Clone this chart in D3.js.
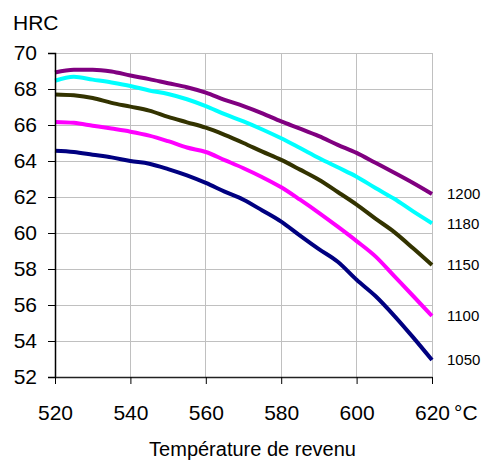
<!DOCTYPE html>
<html><head><meta charset="utf-8">
<script src="https://cdn.jsdelivr.net/npm/d3@7"></script>
<style>
html,body{margin:0;padding:0;background:#fff;}
svg{display:block;font-family:Arial,"Liberation Sans",Helvetica,sans-serif;}
</style></head>
<body>
<svg id="chart" width="485" height="461"></svg>
<script>
const temperatures = [520,525,530,535,540,545,550,555,560,565,570,575,580,585,590,595,600,605,610,615,620];
const hrc1200 = [68.92,69.07,69.07,68.97,68.75,68.55,68.32,68.10,67.80,67.40,67.05,66.65,66.20,65.80,65.38,64.90,64.45,63.90,63.35,62.78,62.17];
const hrc1180 = [68.46,68.68,68.52,68.36,68.17,67.92,67.72,67.43,67.05,66.60,66.20,65.75,65.26,64.72,64.17,63.65,63.13,62.50,61.90,61.20,60.54];
const hrc1150 = [67.70,67.65,67.50,67.23,67.02,66.80,66.45,66.15,65.85,65.45,65.00,64.52,64.06,63.52,62.96,62.28,61.58,60.80,60.05,59.15,58.22];
const hrc1100 = [66.17,66.12,65.96,65.80,65.63,65.41,65.10,64.75,64.50,64.05,63.60,63.10,62.54,61.85,61.12,60.35,59.55,58.70,57.60,56.50,55.39];
const hrc1050 = [64.57,64.50,64.35,64.20,64.00,63.85,63.55,63.20,62.78,62.30,61.85,61.25,60.63,59.85,59.10,58.40,57.40,56.50,55.40,54.20,52.94];
const seriesNames = ["1200","1180","1150","1100","1050"];
const seriesColors = ["#800080","#00ffff","#333300","#ff00ff","#000080"];
const seriesValues = [hrc1200,hrc1180,hrc1150,hrc1100,hrc1050];
const xTicks = [520,540,560,580,600,620];
const yTicks = [52,54,56,58,60,62,64,66,68,70];
const yTitle = "HRC";
const xTitle = "Température de revenu";
const xUnit = "°C";

(function(){
const svg = d3.select("#chart");
const mL = 55, mR = 432, mT = 53, mB = 377;
const x = d3.scaleLinear().domain([520,620]).range([mL,mR]);
const y = d3.scaleLinear().domain([52,70]).range([mB,mT]);

// gridlines
const grid = svg.append("g");
grid.selectAll("line.h").data(yTicks.filter(d=>d>52)).join("line")
  .attr("x1",mL).attr("x2",mR).attr("y1",d=>y(d)).attr("y2",d=>y(d))
  .attr("stroke","#c0c0c0").attr("stroke-width",1).attr("shape-rendering","crispEdges");
grid.selectAll("line.v").data(xTicks.filter(d=>d>520)).join("line")
  .attr("x1",d=>x(d)).attr("x2",d=>x(d)).attr("y1",mT).attr("y2",mB)
  .attr("stroke","#c0c0c0").attr("stroke-width",1).attr("shape-rendering","crispEdges");

// series
const line = d3.line().x((d,i)=>x(temperatures[i])).y(d=>y(d)).curve(d3.curveMonotoneX);
seriesValues.forEach((vals,k)=>{
  svg.append("path").datum(vals).attr("d",line)
    .attr("fill","none").attr("stroke",seriesColors[k]).attr("stroke-width",4)
    .attr("stroke-linejoin","round");
  svg.append("text").attr("x",mR+15).attr("y",y(vals[vals.length-1]))
    .attr("dy","0.35em").attr("font-size",15).attr("fill","#000").text(seriesNames[k]);
});

// axes
const yAxis = d3.axisLeft(y).tickValues(yTicks).tickSize(7).tickPadding(11).tickFormat(d3.format("d"));
const gy = svg.append("g").attr("transform",`translate(${mL},0)`).call(yAxis);
gy.select(".domain").attr("stroke","#000").attr("stroke-width",1.5);
gy.selectAll("text").attr("font-size",21).attr("font-family","Arial,'Liberation Sans',sans-serif").attr("fill","#000");

const xAxis = d3.axisBottom(x).tickValues(xTicks).tickSize(7).tickSizeOuter(0).tickPadding(21).tickFormat(d3.format("d"));
const gx = svg.append("g").attr("transform",`translate(0,${mB})`).call(xAxis);
gx.select(".domain").attr("stroke","#222").attr("stroke-width",1.5);
gx.selectAll("text").attr("font-size",21).attr("font-family","Arial,'Liberation Sans',sans-serif").attr("fill","#000");

svg.append("text").attr("x",x(620)+22).attr("y",mB+43).attr("font-size",21).text(xUnit);
svg.append("text").attr("x",13).attr("y",30).attr("font-size",21).text(yTitle);
svg.append("text").attr("x",(mL+mR)/2+9).attr("y",456).attr("text-anchor","middle").attr("font-size",20).text(xTitle);
})();
</script>
</body></html>
